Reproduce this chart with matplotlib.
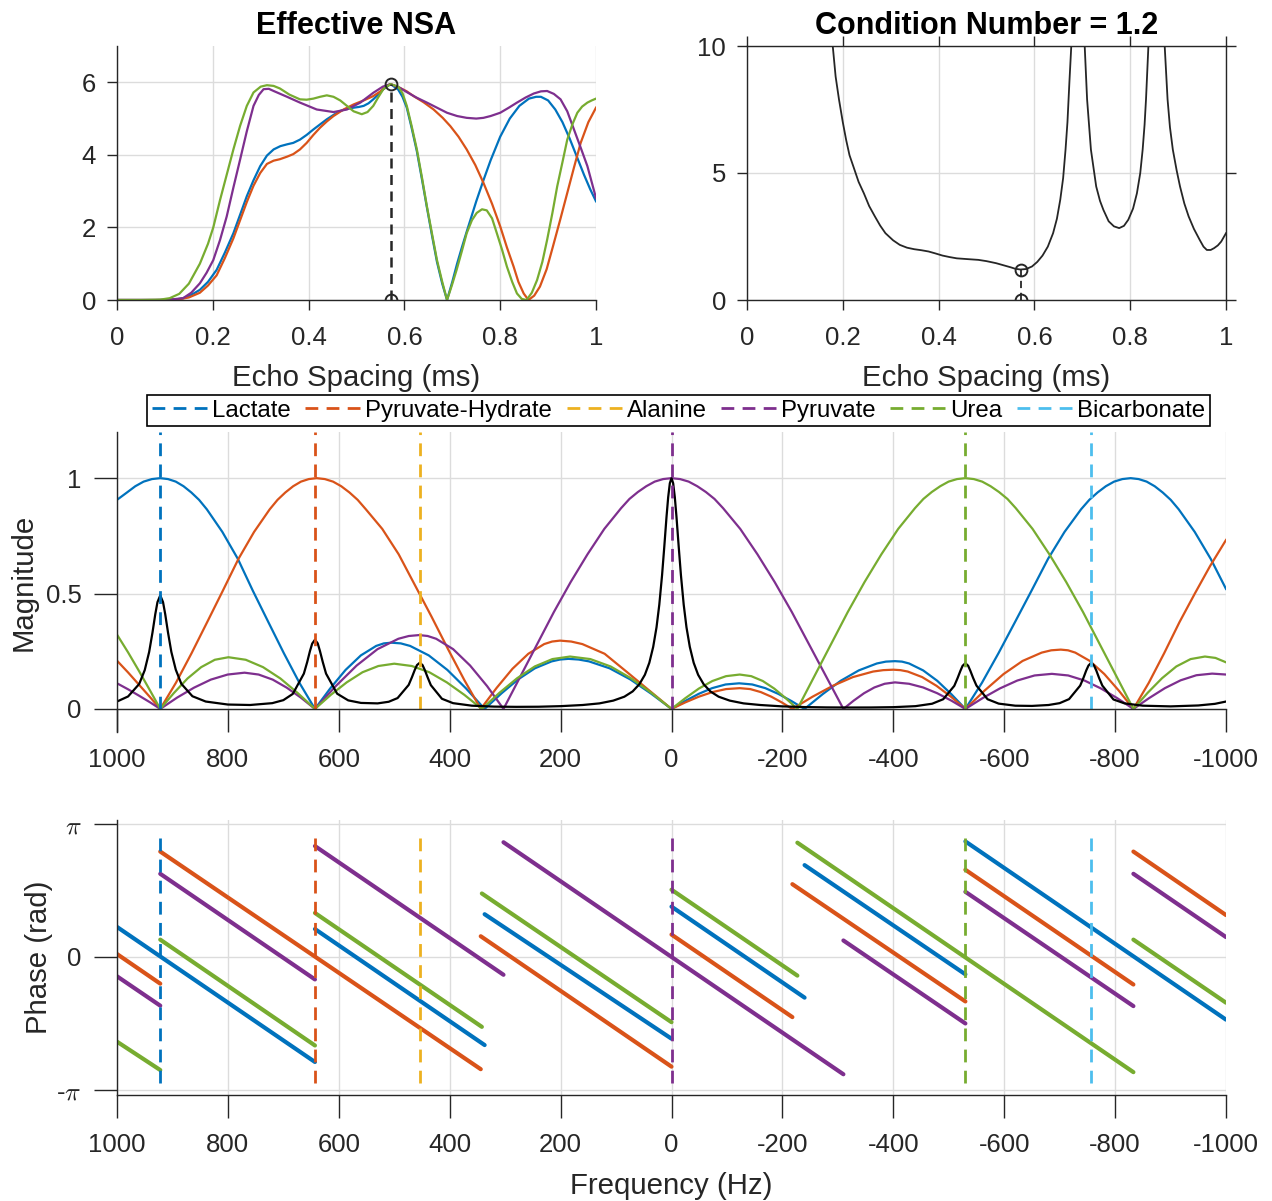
import matplotlib
matplotlib.use("Agg")
import matplotlib.pyplot as plt

plt.rcParams['font.family'] = ['Liberation Sans', 'DejaVu Sans']
plt.rcParams['axes.unicode_minus'] = False
plt.rcParams['mathtext.fontset'] = 'cm'

# ---------------- metabolites ----------------
metabolites = ['Lactate', 'Pyruvate-Hydrate', 'Alanine', 'Pyruvate', 'Urea', 'Bicarbonate']
metab_freq = [922, 643, 454, 0, -530, -757]
metab_color = ['#0072BD', '#D95319', '#EDB120', '#7E2F8E', '#77AC30', '#4DBEEE']
C_BLUE, C_ORANGE, C_PURPLE, C_GREEN = '#0072BD', '#D95319', '#7E2F8E', '#77AC30'

# ---------------- effective NSA vs echo spacing ----------------
es_selected = 0.571
nsa_selected = 5.95
cond_selected = 1.2

es_blue = [0, .1, .125, .138, .155, .173, .19, .208, .225, .243, .257, .271, .285, .299, .313, .327, .341,
           .355, .368, .382, .396, .41, .424, .438, .452, .466, .48, .494, .505, .515, .525, .535, .546,
           .556, .571, .587, .596, .605, .615, .626, .637, .647, .658, .668, .679, .689, .70, .71, .72,
           .73, .74, .75, .765, .78, .8, .82, .84, .86, .875, .885, .9, .915, .93, .945, .96, .975, .988, 1.0]
nsa_blue = [0, 0, .02, .05, .14, .28, .5, .83, 1.3, 1.84, 2.35, 2.86, 3.3, 3.69, 3.98, 4.15, 4.24,
            4.29, 4.33, 4.42, 4.55, 4.7, 4.84, 4.98, 5.1, 5.21, 5.27, 5.3, 5.32, 5.35, 5.42, 5.53, 5.67,
            5.81, 5.95, 5.8, 5.6, 5.3, 4.75, 4.1, 3.3, 2.55, 1.75, 1.05, .45, 0, .5, 1.0, 1.45,
            1.88, 2.3, 2.72, 3.3, 3.85, 4.5, 5.0, 5.35, 5.55, 5.6, 5.6, 5.5, 5.25, 4.9, 4.45, 3.95, 3.45, 3.05, 2.72]

es_orange = [0, .1, .13, .15, .173, .19, .208, .225, .243, .257, .271, .285, .299, .313, .327, .34, .355,
             .368, .382, .396, .41, .424, .438, .452, .473, .494, .515, .535, .55, .563, .571, .59, .605,
             .619, .64, .661, .68, .696, .713, .73, .748, .765, .783, .8, .814, .828, .838, .849, .859,
             .871, .883, .897, .91, .925, .94, .954, .968, .984, 1.0]
nsa_orange = [0, 0, .02, .07, .2, .4, .68, 1.15, 1.7, 2.2, 2.7, 3.15, 3.5, 3.75, 3.84, 3.88, 3.95,
              4.02, 4.15, 4.33, 4.55, 4.75, 4.92, 5.07, 5.25, 5.39, 5.5, 5.62, 5.75, 5.9, 5.95, 5.85, 5.75,
              5.62, 5.45, 5.25, 5.02, 4.79, 4.5, 4.15, 3.72, 3.23, 2.65, 2.03, 1.45, .92, .5, .18, 0,
              .12, .37, .85, 1.47, 2.2, 2.95, 3.65, 4.33, 4.9, 5.3]

es_purple = [0, .08, .11, .138, .155, .173, .187, .201, .215, .229, .243, .257, .271, .285, .296, .306,
             .317, .327, .341, .355, .382, .417, .452, .48, .508, .535, .555, .571, .59, .605, .625, .647,
             .668, .689, .71, .73, .75, .765, .78, .8, .818, .835, .853, .87, .885, .898, .912, .926, .94,
             .954, .968, .982, 1.0]
nsa_purple = [0, 0, .01, .05, .2, .46, .75, 1.1, 1.65, 2.3, 3.1, 3.87, 4.65, 5.35, 5.65, 5.81,
              5.82, 5.76, 5.68, 5.6, 5.44, 5.25, 5.18, 5.25, 5.44, 5.71, 5.88, 5.95, 5.85, 5.73, 5.58, 5.44,
              5.3, 5.16, 5.07, 5.02, 5.0, 5.02, 5.07, 5.16, 5.3, 5.44, 5.58, 5.69, 5.75, 5.76, 5.68, 5.53, 5.2,
              4.7, 4.2, 3.69, 2.81]

es_green = [0, .05, .09, .11, .13, .15, .173, .19, .201, .215, .229, .243, .257, .271, .285, .3, .313,
            .327, .34, .36, .382, .396, .41, .424, .438, .452, .466, .48, .494, .511, .523, .535, .546,
            .556, .571, .587, .596, .605, .615, .626, .637, .647, .658, .668, .679, .689, .699, .709, .72,
            .73, .741, .751, .762, .772, .783, .793, .804, .814, .825, .835, .845, .855, .866, .877, .888,
            .898, .909, .919, .93, .94, .951, .961, .971, .982, .991, 1.0]
nsa_green = [0, 0, .01, .05, .17, .45, 1.0, 1.55, 2.0, 2.75, 3.45, 4.15, 4.8, 5.35, 5.72, 5.88, 5.92,
             5.9, 5.83, 5.66, 5.53, 5.52, 5.55, 5.6, 5.64, 5.6, 5.5, 5.35, 5.2, 5.12, 5.18, 5.35, 5.6,
             5.81, 5.95, 5.88, 5.7, 5.35, 4.8, 4.15, 3.35, 2.58, 1.8, 1.1, .5, 0, .4, .83, 1.35,
             1.84, 2.2, 2.4, 2.5, 2.47, 2.25, 1.84, 1.38, .92, .5, .18, .03, 0, .2, .55, 1.05,
             1.66, 2.4, 3.13, 3.8, 4.42, 4.85, 5.16, 5.33, 5.44, 5.5, 5.55]

# ---------------- condition number vs echo spacing ----------------
es_cond = [.17, .179, .185, .192, .2, .207, .214, .222, .233, .244, .255, .267, .278, .289, .305, .319, .334,
           .349, .364, .379, .394, .408, .423, .438, .46, .483, .50, .52, .535, .55, .56, .571, .583, .595,
           .606, .617, .628, .639, .647, .654, .66, .665, .669, .673, .677, .689, .705, .71, .718, .729,
           .737, .744, .755, .766, .777, .787, .796, .806, .814, .821, .826, .83, .833, .838, .855, .872,
           .878, .883, .889, .897, .904, .913, .922, .933, .945, .953, .96, .968, .975, .983, .99, 1.0]
cond_vals = [13, 10, 8.8, 7.9, 7.0, 6.3, 5.7, 5.26, 4.65, 4.2, 3.7, 3.29, 2.93, 2.63, 2.35, 2.17, 2.06,
             2.0, 1.96, 1.91, 1.83, 1.75, 1.69, 1.64, 1.61, 1.58, 1.53, 1.45, 1.37, 1.29, 1.23, 1.2, 1.22, 1.32,
             1.5, 1.75, 2.1, 2.63, 3.2, 3.95, 4.8, 5.92, 7.0, 8.55, 10, 60, 10, 7.9, 5.92, 4.47,
             3.9, 3.55, 3.1, 2.9, 2.83, 2.92, 3.16, 3.6, 4.2, 5.0, 5.92, 6.9, 7.9, 10, 60, 10,
             7.9, 6.8, 5.92, 5.1, 4.47, 3.8, 3.29, 2.8, 2.37, 2.1, 1.97, 1.97, 2.04, 2.15, 2.3, 2.63]

# ---------------- magnitude responses vs frequency (Hz) ----------------
freq_blue = [1000, 982, 967, 952, 937, 922, 908, 894, 880, 866, 852, 838, 810, 782, 755, 727, 699, 671, 643,
             615.4, 587.8, 560.2, 532.6, 518.8, 505, 488.2, 471.4, 437.8, 404.2, 370.6, 337,
             306.8, 276.6, 246.4, 216.2, 201.1, 186, 167.4, 148.8, 111.6, 74.4, 37.2, 0,
             -24.4, -48.8, -73.2, -97.6, -122, -145.6, -169.2, -192.8, -216.4, -240,
             -272.6, -305.2, -337.8, -370.4, -386.7, -403, -415.7, -428.4, -453.8, -479.2, -504.6, -530,
             -559.8, -589.6, -619.4, -649.2, -679, -708.8, -738.6, -753.5, -768.4, -783.3, -798.2, -813.1, -828,
             -842.5, -856.9, -871.4, -885.8, -900.3, -914.7, -943.6, -972.5, -1000]
mag_blue = [.906, .938, .965, .985, .996, 1.0, .996, .985, .965, .938, .906, .865, .767, .65, .512, .376, .241, .113, 0,
            .089, .169, .232, .273, .284, .287, .284, .273, .232, .169, .089, 0,
            .067, .128, .176, .206, .214, .217, .214, .206, .176, .128, .067, 0,
            .034, .065, .09, .106, .111, .106, .09, .065, .034, 0,
            .064, .122, .167, .197, .205, .207, .205, .197, .167, .122, .064, 0,
            .113, .241, .376, .512, .65, .767, .865, .906, .938, .965, .985, .996, 1.0,
            .996, .985, .965, .938, .906, .865, .767, .65, .52]

freq_orange = [1000, 980, 960, 940, 922,
               893.8, 865.6, 837.4, 809.2, 781, 752.8, 724.6, 710.5, 696.4, 682.3, 668.2, 654.1, 640,
               625.2, 610.4, 595.6, 580.8, 566, 551.2, 521.6, 492, 462.4, 432.8, 403.2, 373.6, 344,
               315.4, 286.8, 258.2, 229.6, 215.3, 201, 180.9, 160.8, 120.6, 80.4, 40.2, 0,
               -24.6, -49.2, -73.8, -98.4, -123, -142, -161, -180, -199, -218,
               -254.4, -290.8, -327.2, -363.6, -381.8, -400, -413, -426, -452, -478, -504, -530,
               -564.4, -598.8, -633.2, -667.6, -684.8, -702, -715.1, -728.2, -754.4, -780.6, -806.8, -833,
               -860.7, -888.4, -916.1, -943.8, -971.5, -1000]
mag_orange = [.209, .158, .104, .05, 0,
              .113, .241, .376, .512, .65, .767, .865, .906, .938, .965, .985, .996, 1.0,
              .996, .985, .965, .938, .906, .865, .78, .67, .535, .40, .26, .125, 0,
              .091, .174, .239, .281, .292, .296, .292, .281, .239, .16, .08, 0,
              .028, .053, .073, .086, .09, .086, .073, .053, .028, 0,
              .053, .1, .138, .162, .168, .17, .168, .162, .138, .1, .053, 0,
              .079, .151, .208, .244, .254, .257, .254, .244, .208, .151, .079, 0,
              .113, .241, .376, .5, .62, .732]

freq_purple = [1000, 980, 960, 940, 922,
               891.6, 861.2, 830.8, 800.4, 770, 744.6, 719.2, 693.8, 668.4, 643,
               605.4, 567.8, 530.2, 492.6, 473.8, 455, 439.7, 424.4, 393.8, 363.2, 332.6, 303,
               272.7, 242.4, 212.1, 181.8, 151.5, 121.2, 90.9, 75.8, 60.6, 45.5, 30.3, 15.2, 0,
               -15.5, -31, -46.5, -62, -77.5, -93, -124, -155, -186, -217, -248, -279, -310,
               -328.6, -347.2, -365.8, -384.4, -403, -428.4, -453.8, -479.2, -504.6, -530,
               -561.2, -592.4, -623.6, -654.8, -686, -715.4, -744.8, -774.2, -803.6, -833,
               -861.4, -889.8, -918.2, -946.6, -975, -1000]
mag_purple = [.111, .085, .057, .028, 0,
              .049, .092, .127, .149, .157, .149, .127, .092, .049, 0,
              .099, .188, .259, .304, .316, .32, .316, .304, .259, .188, .099, 0,
              .14, .28, .42, .55, .67, .78, .87, .91, .94, .965, .985, .996, 1.0,
              .996, .985, .965, .94, .91, .87, .78, .67, .55, .42, .28, .14, 0,
              .036, .068, .093, .109, .115, .109, .093, .068, .036, 0,
              .047, .089, .123, .145, .152, .145, .123, .089, .047, 0,
              .047, .09, .124, .146, .153, .149]

freq_green = [1000, 980, 960, 940, 922,
              897.4, 872.8, 848.2, 823.6, 799, 767.8, 736.6, 705.4, 674.2, 643,
              614.4, 585.8, 557.2, 528.6, 500, 468.4, 436.8, 405.2, 373.6, 342,
              310.2, 278.4, 246.6, 214.8, 183, 146.4, 109.8, 73.2, 36.6, 0,
              -24.6, -49.2, -73.8, -98.4, -123, -143.8, -164.6, -185.4, -206.2, -227,
              -257.3, -287.6, -317.9, -348.2, -378.5, -408.8, -439.1, -454.3, -469.4, -484.6, -499.7, -514.9, -530,
              -545.2, -560.3, -575.5, -590.6, -605.8, -620.9, -651.2, -681.5, -711.8, -742.1, -772.4, -802.7, -833,
              -858.8, -884.6, -910.4, -936.2, -962, -981, -1000]
mag_green = [.322, .245, .163, .078, 0,
             .069, .132, .181, .213, .224, .213, .181, .132, .069, 0,
             .061, .115, .159, .186, .196, .186, .159, .115, .061, 0,
             .070, .133, .184, .216, .227, .216, .184, .133, .070, 0,
             .046, .088, .121, .142, .149, .142, .121, .088, .046, 0,
             .14, .28, .42, .55, .67, .78, .87, .91, .94, .965, .985, .996, 1.0,
             .996, .985, .965, .94, .91, .87, .78, .67, .55, .42, .28, .14, 0,
             .070, .133, .184, .216, .227, .221, .202]

# simulated spectrum (black)
freq_spec = [1000, 980, 960, 950, 942, 936, 931, 927, 922, 917, 913, 908, 902, 894, 884, 864, 840, 800,
             760, 720, 700, 683, 663, 657, 652, 648, 643, 638, 634, 629, 623, 603, 583, 560, 530, 510,
             494, 474, 468, 463, 459, 454, 449, 445, 440, 434, 414, 394, 360, 320, 280, 240, 200, 160,
             130, 105, 85, 70, 58, 48, 40, 33, 27, 22, 17, 13, 9, 6, 3, 0,
             -3, -6, -9, -13, -17, -22, -27, -33, -40, -48, -58, -70, -85, -105, -130, -160, -200,
             -240, -280, -320, -360, -400, -440, -470, -490, -510, -516, -521, -525, -530, -535, -539,
             -544, -550, -570, -590, -620, -650, -680, -700, -717, -737, -743, -748, -752, -757, -762,
             -766, -771, -777, -797, -817, -850, -900, -950, -980, -1000]
mag_spec = [.032, .054, .108, .168, .247, .331, .41, .463, .492, .463, .41, .331, .247, .17, .109, .055, .032, .019,
            .017, .025, .038, .065, .153, .203, .251, .283, .30, .284, .251, .204, .153, .066, .037, .026, .024, .031,
            .047, .104, .138, .169, .19, .2, .19, .169, .138, .103, .044, .025, .014, .01, .009, .0095, .012, .017,
            .024, .036, .053, .076, .107, .148, .2, .269, .354, .452, .58, .703, .832, .917, .978, 1.0,
            .978, .917, .832, .703, .58, .452, .354, .269, .2, .148, .107, .076, .053, .036, .024, .017, .011,
            .008, .0066, .0061, .0063, .0076, .012, .0225, .042, .1, .134, .165, .187, .198, .187, .165,
            .134, .101, .042, .023, .014, .013, .017, .025, .0425, .101, .135, .167, .188, .2, .188,
            .167, .135, .101, .041, .024, .014, .011, .015, .022, .032]

# ---------------- phase segments: (f_start, f_end, phase_start, phase_end) ----------------
phase_blue = [(1000, 643, .71, -2.48), (643, 337, .66, -2.08), (337, 0, 1.01, -1.93),
              (0, -240, 1.19, -.96), (-240, -530, 2.17, -.41), (-530, -1000, 2.73, -1.48)]
phase_orange = [(1000, 922, .07, -.63), (922, 344, 2.49, -2.65), (344, 0, .49, -2.59),
                (0, -218, .53, -1.42), (-218, -530, 1.72, -1.05), (-530, -833, 2.06, -.65),
                (-833, -1000, 2.49, .99)]
phase_purple = [(1000, 922, -.456, -1.15), (922, 643, 1.965, -.53), (643, 303, 2.62, -.42),
                (303, -310, 2.71, -2.77), (-310, -530, .39, -1.57), (-530, -833, 1.54, -1.16),
                (-833, -1000, 1.965, .47)]
phase_green = [(1000, 922, -2.0, -2.67), (922, 643, .41, -2.09), (643, 342, 1.04, -1.65),
               (342, 0, 1.5, -1.54), (0, -227, 1.59, -.44), (-227, -833, 2.7, -2.72),
               (-833, -1000, .41, -1.08)]

# ---------------- figure ----------------
W, H = 1272, 1201
fig = plt.figure(figsize=(W / 100, H / 100), dpi=100)


def box(x0, y0, x1, y1):
    return [x0 / W, 1 - y1 / H, (x1 - x0) / W, (y1 - y0) / H]


TICK_FS = 18.5
LABEL_FS = 21.2
TITLE_FS = 22
TXT = '#262626'
GRID = '#dcdcdc'
DASH = (4.6, 3.0)
DASH_LW = 2.0

ax_nsa = fig.add_axes(box(117, 46, 596, 300))
ax_cond = fig.add_axes(box(747, 46, 1226, 300))
ax_mag = fig.add_axes(box(117, 432, 1226, 732))
ax_ph = fig.add_axes(box(117, 820, 1226, 1095))

for ax in (ax_nsa, ax_cond, ax_mag, ax_ph):
    ax.set_axisbelow(True)
    ax.grid(True, color=GRID, lw=1.0)
    for sp in ax.spines.values():
        sp.set_color(TXT)
        sp.set_linewidth(1.0)
    ax.tick_params(direction='out', colors=TXT, labelsize=TICK_FS, width=1.0)

# --- Effective NSA ---
es_ticks = [0, .2, .4, .6, .8, 1]
es_labels = ['0', '0.2', '0.4', '0.6', '0.8', '1']
ax_nsa.plot(es_blue, nsa_blue, color=C_BLUE, lw=1.6)
ax_nsa.plot(es_orange, nsa_orange, color=C_ORANGE, lw=1.6)
ax_nsa.plot(es_purple, nsa_purple, color=C_PURPLE, lw=1.6)
ax_nsa.plot(es_green, nsa_green, color=C_GREEN, lw=1.6)
ax_nsa.plot([es_selected, es_selected], [0, nsa_selected], color='#262626', lw=1.8, dashes=(4, 2.6))
ax_nsa.plot([es_selected, es_selected], [0, nsa_selected], 'o', color='#262626', mfc='none', ms=8.5, mew=1.4)
ax_nsa.set_xlim(0, 1)
ax_nsa.set_ylim(0, 7)
ax_nsa.set_xticks(es_ticks, es_labels)
ax_nsa.set_yticks([0, 2, 4, 6])
ax_nsa.spines['top'].set_visible(False)
ax_nsa.spines['right'].set_visible(False)
ax_nsa.tick_params(length=7.2)
ax_nsa.tick_params(axis='x', pad=11.5)
ax_nsa.tick_params(axis='y', pad=8)
ax_nsa.set_xlabel('Echo Spacing (ms)', fontsize=LABEL_FS, color=TXT, labelpad=10)
ax_nsa.set_title('Effective NSA', fontsize=TITLE_FS, fontweight='bold', pad=9)

# --- Condition number ---
ax_cond.plot(es_cond, cond_vals, color='#262626', lw=1.3)
ax_cond.plot([es_selected, es_selected], [0, cond_selected], color='#262626', lw=1.3, dashes=(4, 2.6))
ax_cond.plot([es_selected, es_selected], [0, cond_selected], 'o', color='#262626', mfc='none', ms=8.5, mew=1.4)
ax_cond.set_xlim(0, 1)
ax_cond.set_ylim(0, 10)
ax_cond.set_xticks(es_ticks, es_labels)
ax_cond.set_yticks([0, 5, 10])
ax_cond.tick_params(length=7.2, top=True, right=True)
ax_cond.tick_params(axis='x', pad=11.5)
ax_cond.tick_params(axis='y', pad=8)
ax_cond.set_xlabel('Echo Spacing (ms)', fontsize=LABEL_FS, color=TXT, labelpad=10)
ax_cond.set_title(f'Condition Number = {cond_selected:.1f}', fontsize=TITLE_FS, fontweight='bold', pad=9)

# --- Magnitude ---
f_ticks = list(range(1000, -1001, -200))
f_labels = [str(v) for v in f_ticks]
ax_mag.plot(freq_blue, mag_blue, color=C_BLUE, lw=1.6)
ax_mag.plot(freq_orange, mag_orange, color=C_ORANGE, lw=1.6)
ax_mag.plot(freq_purple, mag_purple, color=C_PURPLE, lw=1.6)
ax_mag.plot(freq_green, mag_green, color=C_GREEN, lw=1.6)
ax_mag.plot(freq_spec, mag_spec, color='black', lw=1.6)
handles = []
for f, c in zip(metab_freq, metab_color):
    ln, = ax_mag.plot([f, f], [0, 1.2], color=c, lw=DASH_LW, dashes=DASH)
    handles.append(ln)
ax_mag.set_xlim(1000, -1000)
ax_mag.set_ylim(-0.1, 1.2)
ax_mag.set_xticks(f_ticks, f_labels)
ax_mag.set_yticks([0, 0.5, 1], ['0', '0.5', '1'])
ax_mag.spines['top'].set_visible(False)
ax_mag.spines['right'].set_visible(False)
ax_mag.spines['bottom'].set_position(('data', 0))
ax_mag.tick_params(length=16.5)
ax_mag.tick_params(axis='x', pad=11.5)
ax_mag.tick_params(axis='y', pad=9)
ax_mag.set_ylabel('Magnitude', fontsize=LABEL_FS, color=TXT, labelpad=6)

leg = fig.legend(handles, metabolites, loc='center', bbox_to_anchor=(678.5 / W, 1 - 410.5 / H),
                 ncol=6, fontsize=17.3, frameon=True, fancybox=False, edgecolor='black',
                 handlelength=2.35, handletextpad=0.15, columnspacing=0.6, borderpad=0.2,
                 framealpha=1)
leg.get_frame().set_linewidth(1.2)

# --- Phase ---
for segs, c in ((phase_blue, C_BLUE), (phase_orange, C_ORANGE),
                (phase_purple, C_PURPLE), (phase_green, C_GREEN)):
    for f0, f1, p0, p1 in segs:
        ax_ph.plot([f0, f1], [p0, p1], color=c, lw=3.0, solid_capstyle='round')
PI = 3.141592653589793
for f, c in zip(metab_freq, metab_color):
    ax_ph.plot([f, f], [-0.95 * PI, 0.95 * PI], color=c, lw=DASH_LW, dashes=DASH)
ax_ph.set_xlim(1000, -1000)
ax_ph.set_ylim(-PI - 0.118, PI + 0.094)
ax_ph.set_xticks(f_ticks, f_labels)
ax_ph.set_yticks([-PI, 0, PI], ['-$\\pi$', '0', '$\\pi$'])
ax_ph.spines['top'].set_visible(False)
ax_ph.spines['right'].set_visible(False)
ax_ph.tick_params(length=16.5)
ax_ph.tick_params(axis='x', pad=10.5)
ax_ph.tick_params(axis='y', pad=9)
ax_ph.set_ylabel('Phase (rad)', fontsize=LABEL_FS, color=TXT, labelpad=2.5)
ax_ph.set_xlabel('Frequency (Hz)', fontsize=LABEL_FS, color=TXT, labelpad=11)

fig.savefig('out.png', dpi=100, facecolor='white')
